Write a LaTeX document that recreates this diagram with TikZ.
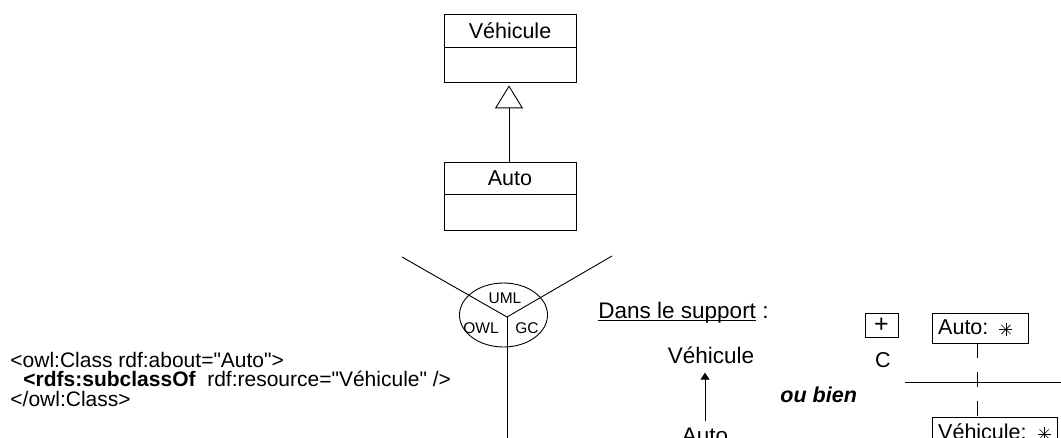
\documentclass[tikz,border=0pt]{standalone}
\usepackage{fontspec}
\setmainfont{Liberation Sans}[Ligatures=TeXOff]
\usetikzlibrary{arrows.meta,shapes.geometric,calc}
\newsavebox\ulbox
\newcommand{\ulx}[1]{\sbox\ulbox{#1}\rlap{\rule[-3pt]{\wd\ulbox}{0.9pt}}\usebox\ulbox}
\newcommand{\spk}{\tikz[baseline={(0pt,-5.5pt)},x=1pt,y=1pt,line width=0.6pt]{\foreach \a in {0,45,...,315}{\draw (0,0)--(\a:6.5);}}}
\begin{document}
\begin{tikzpicture}[x=1pt,y=-1pt, line width=0.9pt,
  every node/.style={font=\fontsize{21.5}{21.5}\selectfont, inner sep=0pt},
  big/.style={font=\fontsize{22.5}{22.5}\selectfont},
  umlhead/.style={draw, minimum width=132pt, minimum height=33pt},
  umlbody/.style={draw, minimum width=132pt, minimum height=35pt},
  small/.style={font=\fontsize{15.5}{15.5}\selectfont},
  code/.style={anchor=base west, font=\fontsize{21}{21}\selectfont},
  framebox/.style={draw, minimum height=30pt, text width=84pt, inner xsep=6pt, align=left},
]
\clip (0,0) rectangle (1061,437);
% UML class diagram
\node[umlhead] (vh) at (510,30.5) {Véhicule};
\node[umlbody, anchor=north] (vb) at (vh.south) {};
\node[umlhead, minimum height=32pt] (ah) at (510,178) {Auto};
\node[umlbody, minimum height=36pt, anchor=north] (ab) at (ah.south) {};
\coordinate (gx) at (509,0);
\draw[-{Triangle[open,length=23pt,width=28pt,fill=white]}, shorten >=2pt] (ah.north -| gx) -- (vb.south -| gx);
% ellipse with three sectors
\node[draw, ellipse, minimum width=88pt, minimum height=64pt] (ell) at (503.5,315) {};
\coordinate (j) at (507,317);
\coordinate (ul) at (402,257);
\coordinate (ur) at (612,256);
\coordinate (dn) at (507,440);
\draw (ul) -- (j) -- (ur);
\draw (j) -- (dn);
\node[small] (uml) at (505,298) {UML};
\node[small] (owl) at (481,328) {OWL};
\node[small] (gc) at (527,328) {GC};
% OWL code
\node[code] (c1) at (10,367) {<owl:Class rdf:about="Auto">};
\node[code] (c2) at (23,386.5) {\textbf{<rdfs:subclassOf}\ \ rdf:resource="Véhicule" />};
\node[code] (c3) at (10,406) {</owl:Class>};
% support
\node[anchor=base west, big] (dans) at (598,318) {\ulx{Dans le support} :};
\node[anchor=base, big] (sv) at (711,363) {Véhicule};
\node[anchor=base, big] (sa) at (705,443) {Auto};
\coordinate (ax) at (705,0);
\draw[-{Triangle[length=7pt,width=9pt]}, shorten <=6pt, shorten >=9pt] (sa.north -| ax) -- (sv.south -| ax);
\node[anchor=base west, font=\fontsize{21.5}{21.5}\selectfont\bfseries\itshape] (ou) at (780,402) {ou bien};
% conceptual graph
\node[draw, minimum width=33pt, minimum height=24pt, font=\fontsize{25}{25}\selectfont] (plus) at (881.5,325) {+};
\node (c) at (883,360) {C};
\node[framebox, anchor=north west] (autoc) at (932,313) {Auto: \spk};
\node[framebox, text width=113pt, anchor=north west] (vehc) at (932,417) {Véhicule: \spk};
\coordinate (hl) at (905,382);
\coordinate (hr) at (1061,382);
\draw (hl) -- (hr);
\coordinate (vx) at (977,0);
\draw[dash pattern=on 15pt off 14pt] (autoc.south -| vx) -- (vehc.north -| vx);
\end{tikzpicture}
\end{document}
